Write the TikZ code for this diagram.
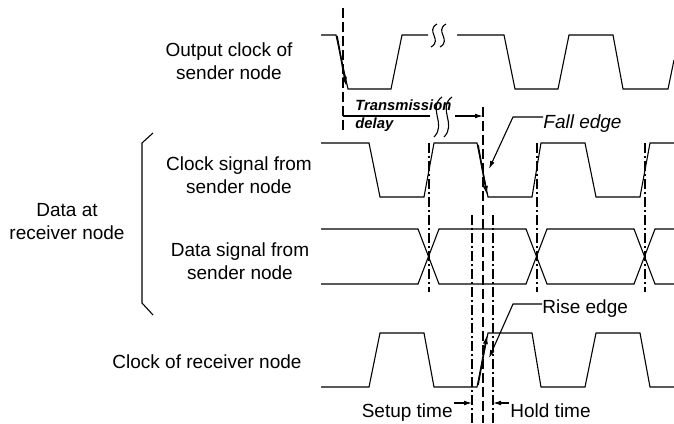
\documentclass[tikz,border=0pt]{standalone}
\usepackage{fontspec}
\setmainfont{Liberation Sans}
\usetikzlibrary{arrows.meta,positioning}
\tikzset{
    wave/.style={line width=0.55pt, black, line join=miter},
    edge arrow/.style={line width=0.8pt, -{Latex[length=4.5pt,width=2.6pt]}},
    leader/.style={line width=0.55pt, -{Latex[length=4pt,width=2.4pt]}},
    time mark/.style={line width=0.55pt, dash pattern=on 5pt off 2pt},
    edge mark/.style={line width=0.55pt, dash pattern=on 5pt off 1.5pt on 1pt off 1.5pt},
    sig label/.style={font=\fontsize{9.5}{11.5}\selectfont, align=center, inner sep=0pt},
    delay label/.style={font=\fontsize{7.4}{9}\selectfont\bfseries\itshape, align=left, inner sep=0pt}
}

\begin{document}
\begin{tikzpicture}[x=0.5pt,y=-0.5pt]
	\useasboundingbox (0,0) rectangle (674,423);
	\begin{scope}[every node/.style={sig label}]
		\node(outclk) at (229,61){Output clock of\\sender node};
		\node(clksig) at (239,175){Clock signal from\\sender node};
		\node(datasig) at (240,261){Data signal from\\sender node};
		\node(datarx) at (67,222){Data at\\receiver node};
		\node[anchor=base](rxclk) at (207,368){Clock of receiver node};
		\node[anchor=base west](fallbl) at (543,128){\itshape Fall edge};
		\node[anchor=base west](riselbl) at (542,313){Rise edge};
		\node[anchor=base east](setuplbl) at (453,417){Setup time};
		\node[anchor=base west](holdlbl) at (510,417){Hold time};
	\end{scope}
	\node[delay label, anchor=north west](delaylbl) at (355,99){Transmission\\delay};

	% waveforms
	\draw[wave] (321,35) -- (336,35) -- (348,89) -- (391,89) -- (402,35) -- (428,35);
	\draw[wave] (457,35) -- (504,35) -- (515,89) -- (558,89) -- (569,35) -- (613,35) -- (623,89) -- (668,89) -- (674,60);
	\draw[wave] (437,24) .. controls (425,31) and (443,40) .. (431,47);
	\draw[wave] (446,24) .. controls (434,31) and (452,40) .. (440,47);

	\draw[wave] (321,143) -- (369,143) -- (380,197) -- (424,197) -- (434,143) -- (477,143) -- (488,197) -- (532,197) -- (541,143) -- (585,143) -- (596,197) -- (640,197) -- (650,143) -- (674,143);

	\draw[wave] (321,229) -- (418,229) -- (439,284) -- (526,284) -- (547,229) -- (634,229) -- (655,284) -- (674,284);
	\draw[wave] (321,284) -- (418,284) -- (439,229) -- (526,229) -- (547,284) -- (634,284) -- (655,229) -- (674,229);

	\draw[wave] (321,387) -- (369,387) -- (380,333) -- (424,333) -- (434,387) -- (477,387) -- (488,333) -- (532,333) -- (541,387) -- (585,387) -- (596,333) -- (640,333) -- (650,387) -- (674,387);

	\draw[wave] (153,133) -- (142,143) -- (142,303) -- (153,315);

	% time marks
	\draw[time mark] (343,8) -- (343,130);
	\draw[time mark] (483,107) -- (483,423);
	\foreach \xm in {429,537,645}
		\draw[edge mark] (\xm,143) -- (\xm,292);
	\draw[edge mark] (472,215) -- (472,423);
	\draw[edge mark] (493,215) -- (493,423);

	% edges
	\coordinate (f1a) at (337,36);
	\coordinate (f1b) at (346,86);
	\draw[edge arrow] (f1a) -- (f1b);
	\coordinate (f2a) at (478,145);
	\coordinate (f2b) at (487,195);
	\draw[edge arrow] (f2a) -- (f2b);
	\coordinate (r1a) at (478,385);
	\coordinate (r1b) at (487,335);
	\draw[edge arrow] (r1a) -- (r1b);

	% transmission delay
	\coordinate (dl0) at (343,116);
	\coordinate (dl1) at (430,116);
	\coordinate (dl2) at (455,116);
	\coordinate (dl3) at (483,116);
	\draw[wave] (dl0) -- (dl1);
	\draw[leader] (dl2) -- (dl3);
	\draw[wave] (442,97) .. controls (427,108) and (447,124) .. (434,137);
	\draw[wave] (452,97) .. controls (437,108) and (457,124) .. (444,137);

	% leaders
	\coordinate (fallknee) at (513,117);
	\coordinate (falltip) at (489,169);
	\draw[leader] (fallbl.west |- fallknee) -- (fallknee) -- (falltip);
	\coordinate (riseknee) at (513,304);
	\coordinate (risetip) at (489,358);
	\draw[leader] (riselbl.west |- riseknee) -- (riseknee) -- (risetip);
	\coordinate (setupa) at (454,403);
	\coordinate (setupb) at (472,403);
	\draw[leader] (setupa) -- (setupb);
	\coordinate (holda) at (509,403);
	\coordinate (holdb) at (493,403);
	\draw[leader] (holda) -- (holdb);
\end{tikzpicture}
\end{document}
